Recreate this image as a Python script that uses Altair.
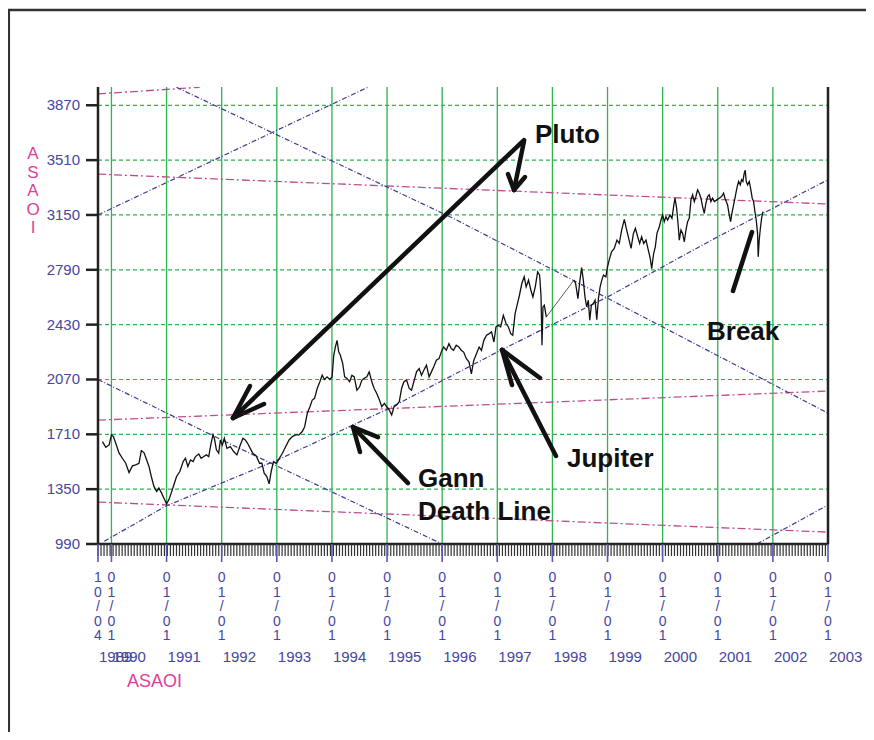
import altair as alt
import pandas as pd
import numpy as np

W, H = 730, 457
X_DOMAIN = [1989.756, 2003.0]
Y_DOMAIN = [990, 3990]

GREEN = "#2fb24f"
BLUE_TXT = "#4646a0"
BLUE_TICK = "#5a5aaa"
GANN_BLUE = "#3a3a90"
PINK_LINE = "#c24c8e"
PINK_TXT = "#e0409a"
FONT = "Liberation Sans"

# ---------------- axis data ----------------
y_ticks = [990, 1350, 1710, 2070, 2430, 2790, 3150, 3510, 3870]
x_major = [1989.756] + list(range(1990, 2004))
x_major_labels = ["10/04"] + ["01/01"] * 14
x_year_labels = ["1989"] + [str(y) for y in range(1990, 2004)]
grid_years = list(range(1990, 2003))

# ---------------- price series (ASAOI) ----------------
seg1_year = [1989.837, 1989.898, 1989.958, 1990.000, 1990.036, 1990.078, 1990.139, 1990.199, 1990.259, 1990.319,
             1990.380, 1990.440, 1990.500, 1990.542, 1990.590, 1990.639, 1990.681, 1990.723, 1990.771, 1990.819,
             1990.861, 1990.910, 1990.952, 1991.000, 1991.042, 1991.084, 1991.133, 1991.181, 1991.241, 1991.301,
             1991.343, 1991.386, 1991.434, 1991.482, 1991.524, 1991.584, 1991.627, 1991.675, 1991.723, 1991.765,
             1991.807, 1991.843, 1991.867, 1991.904, 1991.946, 1991.976, 1992.012, 1992.048, 1992.096, 1992.157,
             1992.217, 1992.277, 1992.337, 1992.386, 1992.428, 1992.470, 1992.518, 1992.566, 1992.627, 1992.687,
             1992.729, 1992.771, 1992.819, 1992.861, 1992.898, 1992.940, 1992.988,
             1993.012, 1993.102, 1993.162, 1993.222, 1993.282, 1993.342, 1993.402, 1993.462, 1993.505, 1993.553,
             1993.601, 1993.643, 1993.685, 1993.733, 1993.781, 1993.823, 1993.865, 1993.913, 1993.961, 1994.003,
             1994.033, 1994.063, 1994.093, 1994.123, 1994.153, 1994.195, 1994.231, 1994.273, 1994.321, 1994.363,
             1994.405, 1994.453, 1994.502, 1994.544, 1994.586, 1994.634, 1994.676, 1994.724, 1994.766, 1994.814,
             1994.862, 1994.904, 1994.952, 1994.994, 1995.042, 1995.084, 1995.126, 1995.174, 1995.222, 1995.264,
             1995.306, 1995.354, 1995.402, 1995.444, 1995.486, 1995.535, 1995.583, 1995.625, 1995.667, 1995.715,
             1995.763, 1995.805, 1995.847, 1995.895, 1995.943, 1995.985, 1996.027, 1996.075, 1996.123, 1996.165,
             1996.207, 1996.255, 1996.303, 1996.345,
             1996.390, 1996.439, 1996.488, 1996.530, 1996.573, 1996.622, 1996.671, 1996.713, 1996.756, 1996.805,
             1996.854, 1996.896, 1996.939, 1996.976, 1997.018, 1997.061, 1997.110, 1997.159, 1997.201, 1997.244,
             1997.280, 1997.323, 1997.366, 1997.402, 1997.445, 1997.488, 1997.524, 1997.567, 1997.610, 1997.646,
             1997.689, 1997.732, 1997.768, 1997.793, 1997.811, 1997.829, 1997.854, 1997.890]
seg1_value = [1662, 1625, 1640, 1706, 1695, 1651, 1586, 1553, 1520, 1459,
              1503, 1509, 1520, 1603, 1590, 1542, 1499, 1433, 1368, 1335,
              1357, 1324, 1291, 1254, 1281, 1324, 1379, 1433, 1466, 1531,
              1553, 1499, 1542, 1531, 1564, 1581, 1553, 1564, 1575, 1564,
              1651, 1706, 1684, 1608, 1586, 1673, 1640, 1684, 1618, 1629,
              1597, 1575, 1640, 1684, 1673, 1651, 1618, 1586, 1568, 1520,
              1520, 1455, 1433, 1385, 1466, 1531, 1520,
              1531, 1586, 1630, 1673, 1695, 1706, 1706, 1728, 1760, 1848,
              1891, 1935, 1946, 2011, 2055, 2098, 2070, 2087, 2070, 2087,
              2229, 2284, 2327, 2251, 2229, 2175, 2087, 2077, 2055, 2098,
              2087, 2000, 2022, 2066, 2077, 2087, 2120, 2055, 2011, 1978,
              1935, 1891, 1913, 1891, 1869, 1837, 1891, 1902, 1924, 2011,
              2055, 2066, 2011, 2000, 2055, 2120, 2142, 2098, 2131, 2164,
              2087, 2120, 2153, 2196, 2207, 2251, 2284, 2262, 2305, 2273,
              2262, 2295, 2284, 2262,
              2250, 2206, 2184, 2107, 2195, 2239, 2283, 2261, 2327, 2360,
              2371, 2382, 2316, 2415, 2426, 2415, 2491, 2437, 2415, 2371,
              2360, 2502, 2568, 2623, 2700, 2744, 2678, 2722, 2656, 2612,
              2678, 2777, 2755, 2623, 2294, 2546, 2557, 2480]

seg2_year = [1998.390, 1998.421, 1998.463, 1998.500, 1998.530, 1998.561, 1998.591, 1998.622, 1998.652, 1998.677,
             1998.707, 1998.744, 1998.774, 1998.805, 1998.835, 1998.866, 1998.896, 1998.927, 1998.970, 1999.000,
             1999.030, 1999.073, 1999.122, 1999.171, 1999.213, 1999.256, 1999.305, 1999.348, 1999.384, 1999.427,
             1999.470, 1999.506, 1999.547, 1999.583, 1999.619, 1999.656, 1999.698, 1999.740, 1999.776, 1999.801,
             1999.837, 1999.867, 1999.897, 1999.940, 1999.970, 2000.000, 2000.030, 2000.060, 2000.091, 2000.133,
             2000.169, 2000.199, 2000.224, 2000.254, 2000.284, 2000.302, 2000.332, 2000.363, 2000.393, 2000.423,
             2000.453, 2000.483, 2000.514, 2000.544, 2000.574, 2000.604, 2000.634, 2000.665, 2000.695, 2000.725,
             2000.755, 2000.785, 2000.816, 2000.846, 2000.876, 2000.906, 2000.937, 2000.985, 2001.027, 2001.069,
             2001.106, 2001.130, 2001.154, 2001.178, 2001.208, 2001.233, 2001.257, 2001.287, 2001.317, 2001.347,
             2001.378, 2001.408, 2001.432, 2001.456, 2001.480, 2001.498, 2001.517, 2001.541, 2001.571, 2001.601,
             2001.625, 2001.650, 2001.674, 2001.698, 2001.722, 2001.734, 2001.752, 2001.770, 2001.795, 2001.819]
seg2_value = [2722, 2700, 2601, 2722, 2805, 2722, 2612, 2546, 2590, 2459,
              2557, 2568, 2590, 2463, 2601, 2678, 2722, 2755, 2744, 2810,
              2854, 2908, 2930, 2985, 2963, 3051, 3121, 3051, 2996, 2930,
              3029, 3062, 3007, 2963, 3007, 2963, 2985, 2919, 2864, 2798,
              2897, 2941, 3029, 3073, 3117, 3150, 3106, 3139, 3117, 3150,
              3128, 3205, 3260, 3194, 3073, 2985, 3051, 3029, 2974, 3051,
              3106, 3128, 3249, 3282, 3238, 3271, 3315, 3293, 3260, 3205,
              3161, 3227, 3271, 3282, 3238, 3260, 3238, 3249, 3260, 3271,
              3293, 3260, 3238, 3216, 3150, 3106, 3161, 3216, 3271, 3326,
              3370, 3348, 3381, 3370, 3425, 3443, 3370, 3348, 3370, 3315,
              3260, 3238, 3172, 3117, 3029, 2875, 2985, 3051, 3128, 3172]

# ---------------- Gann / Pluto lines (year, value) ----------------
blue_lines = {
    "death": [(1989.87, 1008), (1991.0, 1241), (1993.0, 1540), (1995.0, 1874), (1997.0, 2250),
              (1999.0, 2612), (2001.0, 3007), (2003.0, 3381)],
    "downA": [(1991.18, 3988), (1996.2, 3128), (1998.0, 2792), (2003.0, 1849)],
    "downB": [(1989.756, 2070), (1992.0, 1673), (1995.0, 1161), (1996.0, 990)],
    "upC": [(1989.756, 3150), (1994.65, 3988)],
    "upE": [(2001.71, 990), (2003.0, 1246)],
}
pink_lines = {
    "p1": [(1989.756, 3945), (1991.6, 3988)],
    "p2": [(1989.756, 3418), (2003.0, 3222)],
    "p3": [(1989.756, 1803), (2003.0, 1994)],
    "p4": [(1989.756, 1265), (2003.0, 1068)],
}

# ---------------- annotations ----------------
ann_text = ["Pluto", "Break", "Jupiter", "Gann", "Death Line"]
ann_year = [1997.684, 2000.805, 1998.265, 1995.561, 1995.561]
ann_value = [3622, 2329, 1495, 1364, 1148]

# arrow strokes: (x1, y1, x2, y2) in (year, value)
arrows = [
    (1997.485, 3642, 1992.205, 1817), (1992.205, 1817, 1992.514, 2027), (1992.205, 1817, 1992.768, 1909),
    (1997.485, 3635, 1997.303, 3314), (1997.303, 3314, 1997.194, 3419), (1997.303, 3314, 1997.503, 3399),
    (1995.380, 1390, 1994.382, 1758), (1994.382, 1758, 1994.509, 1594), (1994.382, 1758, 1994.836, 1692),
    (1998.065, 1568, 1997.086, 2264), (1997.086, 2264, 1997.267, 2034), (1997.086, 2264, 1997.775, 2080),
    (2001.276, 2651, 2001.621, 3038),
]

# ---------------- build frames ----------------
xs = alt.Scale(domain=X_DOMAIN, nice=False, zero=False)
ysc = alt.Scale(domain=Y_DOMAIN, nice=False, zero=False)


def X(f):
    return alt.X(f, type="quantitative", scale=xs, axis=None)


def Y(f):
    return alt.Y(f, type="quantitative", scale=ysc, axis=None)


def lines_df(d):
    rows = []
    for k, pts in d.items():
        for i, (a, b) in enumerate(pts):
            rows.append({"id": k, "x": a, "y": b, "o": i})
    return pd.DataFrame(rows)


price_df = pd.DataFrame({
    "x": seg1_year + seg2_year,
    "y": seg1_value + seg2_value,
    "seg": ["a"] * len(seg1_year) + ["b"] * len(seg2_year),
})
gap_df = pd.DataFrame({"x": [seg1_year[-1], seg2_year[0]], "y": [seg1_value[-1], seg2_value[0]]})
one = pd.DataFrame({"k": [0]})

vgrid = alt.Chart(pd.DataFrame({"x": grid_years})).mark_rule(color=GREEN, strokeWidth=1.3).encode(
    x=X("x"), y=alt.value(0), y2=alt.value(H))
hgrid = alt.Chart(pd.DataFrame({"y": y_ticks[1:]})).mark_rule(
    color=GREEN, strokeWidth=1.2, strokeDash=[4, 3]).encode(y=Y("y"), x=alt.value(0), x2=alt.value(W))

pink = alt.Chart(lines_df(pink_lines)).mark_line(
    color=PINK_LINE, strokeWidth=1.3, strokeDash=[8, 3, 2, 3], clip=True).encode(
    x=X("x"), y=Y("y"), detail="id:N", order="o:Q")
blue = alt.Chart(lines_df(blue_lines)).mark_line(
    color=GANN_BLUE, strokeWidth=1.2, strokeDash=[5, 2, 1, 2], clip=True).encode(
    x=X("x"), y=Y("y"), detail="id:N", order="o:Q")

price = alt.Chart(price_df).mark_line(color="#111111", strokeWidth=1.3).encode(
    x=X("x"), y=Y("y"), detail="seg:N")
gap = alt.Chart(gap_df).mark_line(color="#333333", strokeWidth=0.8).encode(x=X("x"), y=Y("y"))

# axes lines
left_ax = alt.Chart(one).mark_rule(color="#222222", strokeWidth=2.5).encode(
    x=alt.value(0), y=alt.value(0), y2=alt.value(H))
right_ax = alt.Chart(one).mark_rule(color="#222222", strokeWidth=2.5).encode(
    x=alt.value(W), y=alt.value(0), y2=alt.value(H))
bottom_ax = alt.Chart(one).mark_rule(color="#222222", strokeWidth=2.5).encode(
    y=alt.value(H), x=alt.value(-1), x2=alt.value(W + 1))

ytick = alt.Chart(pd.DataFrame({"y": y_ticks})).mark_rule(color="#222222", strokeWidth=2.5).encode(
    y=Y("y"), x=alt.value(-12), x2=alt.value(0))
ylab = alt.Chart(pd.DataFrame({"y": y_ticks, "t": [str(v) for v in y_ticks]})).mark_text(
    align="right", baseline="middle", fontSize=15, font=FONT, color=BLUE_TXT).encode(
    y=Y("y"), x=alt.value(-18), text="t:N")

minor_pos = np.arange(X_DOMAIN[0], X_DOMAIN[1] + 1e-6, 20 / 365.25)
xminor = alt.Chart(pd.DataFrame({"x": minor_pos})).mark_rule(color="#333333", strokeWidth=1.2).encode(
    x=X("x"), y=alt.value(H), y2=alt.value(H + 12))
xmajor = alt.Chart(pd.DataFrame({"x": x_major})).mark_rule(color=BLUE_TICK, strokeWidth=1.6).encode(
    x=X("x"), y=alt.value(H), y2=alt.value(H + 18))
xlab = alt.Chart(pd.DataFrame({"x": x_major, "t": ["\n".join(list(s)) for s in x_major_labels]})).mark_text(
    align="center", baseline="middle", fontSize=14, lineHeight=14.5, lineBreak="\n", font=FONT,
    color=BLUE_TXT).encode(x=X("x"), y=alt.value(491), text="t:N")
xyear = alt.Chart(pd.DataFrame({"x": x_major, "t": x_year_labels})).mark_text(
    align="left", baseline="middle", fontSize=15, font=FONT, color=BLUE_TXT, dx=1).encode(
    x=X("x"), y=alt.value(570), text="t:N")

ytitle = alt.Chart(pd.DataFrame({"t": ["A\nS\nA\nO\nI"]})).mark_text(
    align="center", baseline="middle", fontSize=17, lineHeight=18.5, lineBreak="\n", font=FONT,
    color=PINK_TXT).encode(x=alt.value(-65), y=alt.value(67), text="t:N")
xtitle = alt.Chart(pd.DataFrame({"t": ["ASAOI"]})).mark_text(
    align="left", baseline="middle", fontSize=18, font=FONT, color=PINK_TXT).encode(
    x=alt.value(29), y=alt.value(595), text="t:N")

ann = alt.Chart(pd.DataFrame({"x": ann_year, "y": ann_value, "t": ann_text})).mark_text(
    align="left", baseline="alphabetic", fontSize=26, fontWeight="bold", font=FONT, color="#111111").encode(
    x=X("x"), y=Y("y"), text="t:N")
arr_df = pd.DataFrame(arrows, columns=["x", "y", "x2", "y2"])
arr = alt.Chart(arr_df).mark_rule(color="#111111", strokeWidth=4.5, strokeCap="round").encode(
    x=X("x"), y=Y("y"), x2="x2:Q", y2="y2:Q")

frame_top = alt.Chart(one).mark_rule(color="#333333", strokeWidth=2.5).encode(
    y=alt.value(-77), x=alt.value(-90), x2=alt.value(W + 40))
frame_left = alt.Chart(one).mark_rule(color="#333333", strokeWidth=2.5).encode(
    x=alt.value(-89.2), y=alt.value(-78), y2=alt.value(H + 220))

chart = alt.layer(
    vgrid, hgrid, pink, blue, price, gap,
    left_ax, right_ax, bottom_ax, ytick, ylab, xminor, xmajor, xlab, xyear,
    ytitle, xtitle, arr, ann, frame_top, frame_left,
).properties(
    width=W, height=H,
    padding={"left": 90, "top": 79, "right": 38, "bottom": 188},
    autosize=alt.AutoSizeParams(type="none"),
).configure_view(strokeWidth=0)

chart.save("out.html", embed_options={"renderer": "svg", "actions": False})
